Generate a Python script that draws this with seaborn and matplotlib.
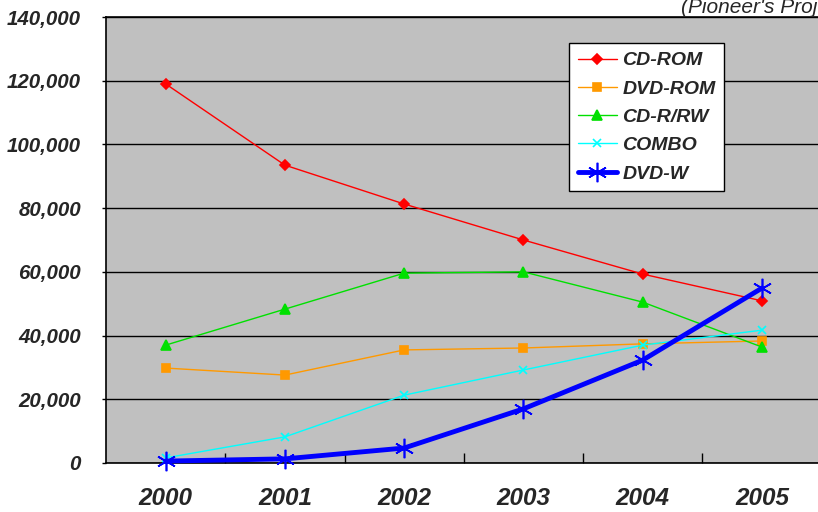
import pandas as pd
import seaborn as sns
import matplotlib.pyplot as plt
from matplotlib.ticker import FuncFormatter, MultipleLocator

# data
years = [2000, 2001, 2002, 2003, 2004, 2005]
cd_rom = [119000, 93500, 81300, 70000, 59300, 50900]
dvd_rom = [29800, 27600, 35500, 36100, 37400, 38300]
cd_rrw = [37000, 48300, 59600, 60000, 50500, 36400]
combo = [1600, 8200, 21300, 29200, 37000, 41700]
dvd_w = [600, 1300, 4700, 17000, 32300, 54900]

series = {"CD-ROM": cd_rom, "DVD-ROM": dvd_rom, "CD-R/RW": cd_rrw,
          "COMBO": combo, "DVD-W": dvd_w}

# style per series (colour, marker, marker size, line width)
styles = {
    "CD-ROM": ("#FF0000", "D", 5, 1.0),
    "DVD-ROM": ("#FF9900", "s", 6, 1.0),
    "CD-R/RW": ("#00E000", "^", 7, 1.0),
    "COMBO": ("#00FFFF", "x", 6, 1.0),
    "DVD-W": ("#0000FF", (6, 2, 0), 14, 3.5),
}

sns.set_theme(style="white")
plt.rcParams['font.family'] = ['Liberation Sans', 'DejaVu Sans']

fig = plt.figure(figsize=(8.18, 5.12), dpi=100)
ax = fig.add_axes([106 / 818, 1 - 463 / 512, 715.6 / 818, 446 / 512])
ax.set_facecolor("#C0C0C0")

for name, vals in series.items():
    col, mk, ms, lw = styles[name]
    df = pd.DataFrame({"year": years, "units": vals})
    sns.lineplot(data=df, x="year", y="units", ax=ax, color=col, lw=lw,
                 marker=mk, markersize=ms, markeredgecolor=col,
                 markeredgewidth=1.2, markerfacecolor=col, label=name,
                 clip_on=False, zorder=3)

ax.set_xlim(1999.5, 2005.5)
ax.set_ylim(0, 140000)
ax.yaxis.set_major_locator(MultipleLocator(20000))
ax.yaxis.set_major_formatter(FuncFormatter(lambda v, p: f"{int(v):,}"))
ax.set_xticks(years)
ax.set_xticks([y + 0.5 for y in years[:-1]], minor=True)
ax.set_xlabel("")
ax.set_ylabel("")
ax.grid(axis="y", color="black", lw=1.0)
ax.grid(axis="x", visible=False)
ax.set_axisbelow(True)

for s in ["left", "bottom", "top"]:
    ax.spines[s].set_color("black")
    ax.spines[s].set_linewidth(1.2)
ax.spines["right"].set_visible(False)

ax.tick_params(axis="x", which="major", length=0, pad=17,
               labelsize=17.5)
ax.tick_params(axis="x", which="minor", direction="in", length=7,
               width=1, color="black", bottom=True)
ax.tick_params(axis="y", length=3, width=1, color="black", left=True,
               pad=15, labelsize=14.8)
for lab in ax.get_xticklabels() + ax.get_yticklabels():
    lab.set_fontweight("bold")
    lab.set_fontstyle("italic")

leg = ax.legend(loc="upper left", bbox_to_anchor=(0.647, 0.9417),
                borderaxespad=0, frameon=True, fancybox=False,
                prop={"weight": "bold", "style": "italic", "size": 14},
                handlelength=2.0, handletextpad=0.3, labelspacing=0.55,
                borderpad=0.45)
leg.get_frame().set_edgecolor("black")
leg.get_frame().set_linewidth(1.0)
leg.get_frame().set_facecolor("white")
leg.get_frame().set_alpha(1)

fig.text(681 / 818, 1 - 13 / 512, "(Pioneer's Projection)",
         fontsize=15, fontstyle="italic", va="baseline", ha="left")

plt.savefig("out.png", dpi=100)
